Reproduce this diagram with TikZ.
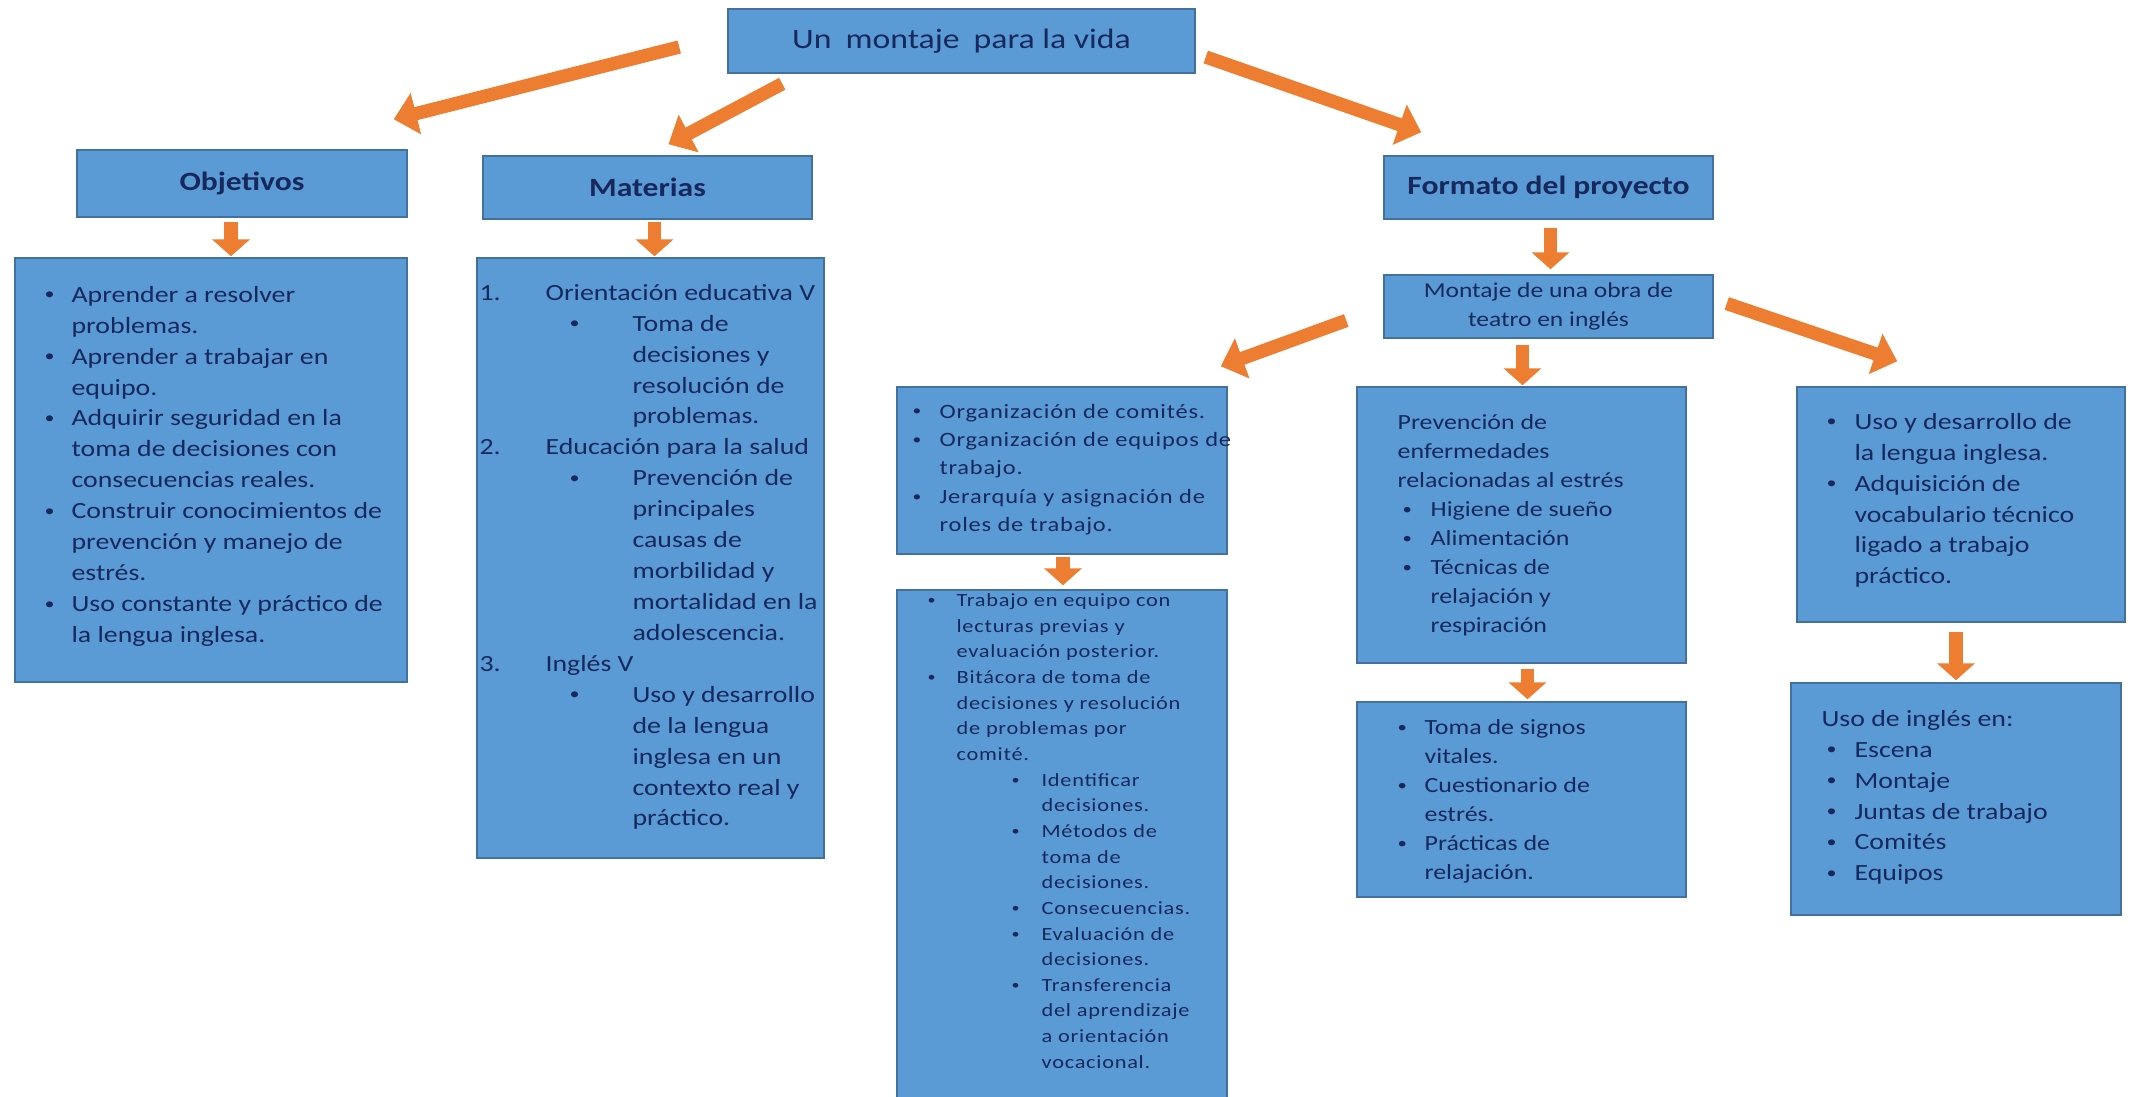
\documentclass[tikz,border=0pt]{standalone}
\usepackage{fontspec}
\setmainfont{Carlito}[FakeStretch=1.2]
\newfontfamily\widefont{Carlito}[FakeStretch=1.2,LetterSpace=4]
\usetikzlibrary{arrows.meta,calc}

\newdimen\pxu \pxu=0.02cm
\definecolor{boxfill}{RGB}{91,155,213}
\definecolor{boxline}{RGB}{65,113,156}
\definecolor{txtblue}{RGB}{22,40,92}
\definecolor{arrorange}{RGB}{237,125,49}
% bullet at #1, text at #1+#2 (both in px)
\newcommand{\bl}[2]{\hspace*{#1\pxu}\makebox[#2\pxu][l]{\raisebox{0.1em}{\scalebox{0.72}{\textbullet}}}}
\newcommand{\sk}[1]{\hspace*{#1\pxu}}

\begin{document}
\begin{tikzpicture}[x=0.02cm,y=-0.02cm,
  box/.style={draw=boxline, fill=boxfill, line width=0.85pt, inner sep=0pt, text=txtblue},
  head/.style={box, font=\fontsize{15}{18}\selectfont\bfseries},
  lst/.style={anchor=north west, inner sep=0pt, align=left, text=txtblue},
  lstA/.style={lst, font=\fontsize{13.2}{17.6}\selectfont},
  lstB/.style={lst, font=\fontsize{12.3}{16.5}\selectfont},
  lstC/.style={lst, font=\widefont\fontsize{11.6}{16.2}\selectfont},
  lstD/.style={lst, font=\widefont\fontsize{10.6}{14.6}\selectfont},
  blk/.style={draw=arrorange, line width=7.6pt, -{Triangle[width=23.5pt,length=13pt]}},
  dwn/.style={draw=arrorange, line width=7.9pt, -{Triangle[width=21pt,length=9.6pt]}}]
\useasboundingbox (0,0) rectangle (2131,1097);

% top level
\node[box, minimum width=467\pxu, minimum height=64\pxu,
      font=\fontsize{16}{18}\selectfont] (title) at (961.5,41)
      {Un\enspace montaje\enspace para la vida};
\node[head, minimum width=330\pxu, minimum height=67\pxu] (obj) at (242,183.5) {Objetivos};
\node[head, minimum width=329\pxu, minimum height=63\pxu] (mat) at (647.5,187.5) {Materias};
\node[head, minimum width=329\pxu, minimum height=63\pxu] (fmt) at (1548.5,187.5) {Formato del proyecto};
\node[box, minimum width=329\pxu, minimum height=63\pxu, align=center,
      font=\fontsize{12.1}{16.4}\selectfont] (mon) at (1548.5,306.5)
      {Montaje de una obra de\\teatro en inglés};

% content boxes
\node[box, minimum width=392\pxu, minimum height=424\pxu] (objc) at (211,470) {};
\node[box, minimum width=347\pxu, minimum height=600\pxu] (matc) at (650.5,558) {};
\node[box, minimum width=330\pxu, minimum height=167\pxu] (org) at (1062,470.5) {};
\node[box, minimum width=330\pxu, minimum height=512\pxu] (trab) at (1062,846) {};
\node[box, minimum width=329\pxu, minimum height=276\pxu] (prev) at (1521.5,525) {};
\node[box, minimum width=329\pxu, minimum height=195\pxu] (toma) at (1521.5,799.5) {};
\node[box, minimum width=328\pxu, minimum height=235\pxu] (uso) at (1961,504.5) {};
\node[box, minimum width=330\pxu, minimum height=232\pxu] (usoing) at (1956,799) {};

% texts
\node[lstA] (objt) at ($(objc.north west)+(30,23)$) {\strut\bl{0}{27}Aprender a resolver\\
  \sk{27}problemas.\\
  \bl{0}{27}Aprender a trabajar en\\
  \sk{27}equipo.\\
  \bl{0}{27}Adquirir seguridad en la\\
  \sk{27}toma de decisiones con\\
  \sk{27}consecuencias reales.\\
  \bl{0}{27}Construir conocimientos de\\
  \sk{27}prevención y manejo de\\
  \sk{27}estrés.\\
  \bl{0}{27}Uso constante y práctico de\\
  \sk{27}la lengua inglesa.};
\node[lstA] (matt) at ($(matc.north west)+(3,21)$) {\strut\makebox[66\pxu][l]{1.}Orientación educativa V\\
  \bl{90}{63}Toma de\\
  \sk{153}decisiones y\\
  \sk{153}resolución de\\
  \sk{153}problemas.\\
  \makebox[66\pxu][l]{2.}Educación para la salud\\
  \bl{90}{63}Prevención de\\
  \sk{153}principales\\
  \sk{153}causas de\\
  \sk{153}morbilidad y\\
  \sk{153}mortalidad en la\\
  \sk{153}adolescencia.\\
  \makebox[66\pxu][l]{3.}Inglés V\\
  \bl{90}{63}Uso y desarrollo\\
  \sk{153}de la lengua\\
  \sk{153}inglesa en un\\
  \sk{153}contexto real y\\
  \sk{153}práctico.};
\node[lstC] (orgt) at ($(org.north west)+(16,11.5)$) {\strut\bl{0}{27}Organización de comités.\\
  \bl{0}{27}Organización de equipos de\\
  \sk{27}trabajo.\\
  \bl{0}{27}Jerarquía y asignación de\\
  \sk{27}roles de trabajo.};
\node[lstD] (trabt) at ($(trab.north west)+(31,-1)$) {\strut\bl{0}{29}Trabajo en equipo con\\
  \sk{29}lecturas previas y\\
  \sk{29}evaluación posterior.\\
  \bl{0}{29}Bitácora de toma de\\
  \sk{29}decisiones y resolución\\
  \sk{29}de problemas por\\
  \sk{29}comité.\\
  \bl{84}{30}Identificar\\
  \sk{114}decisiones.\\
  \bl{84}{30}Métodos de\\
  \sk{114}toma de\\
  \sk{114}decisiones.\\
  \bl{84}{30}Consecuencias.\\
  \bl{84}{30}Evaluación de\\
  \sk{114}decisiones.\\
  \bl{84}{30}Transferencia\\
  \sk{114}del aprendizaje\\
  \sk{114}a orientación\\
  \sk{114}vocacional.};
\node[lstB] (prevt) at ($(prev.north west)+(41,23)$) {\strut Prevención de\\
  enfermedades\\
  relacionadas al estrés\\
  \bl{5}{28}Higiene de sueño\\
  \bl{5}{28}Alimentación\\
  \bl{5}{28}Técnicas de\\
  \sk{33}relajación y\\
  \sk{33}respiración};
\node[lstB] (tomat) at ($(toma.north west)+(41,13)$) {\strut\bl{0}{27}Toma de signos\\
  \sk{27}vitales.\\
  \bl{0}{27}Cuestionario de\\
  \sk{27}estrés.\\
  \bl{0}{27}Prácticas de\\
  \sk{27}relajación.};
\node[lstA] (usot) at ($(uso.north west)+(30,21)$) {\strut\bl{0}{28}Uso y desarrollo de\\
  \sk{28}la lengua inglesa.\\
  \bl{0}{28}Adquisición de\\
  \sk{28}vocabulario técnico\\
  \sk{28}ligado a trabajo\\
  \sk{28}práctico.};
\node[lstA] (usoingt) at ($(usoing.north west)+(31,22)$) {\strut Uso de inglés en:\\
  \bl{5}{28}Escena\\
  \bl{5}{28}Montaje\\
  \bl{5}{28}Juntas de trabajo\\
  \bl{5}{28}Comités\\
  \bl{5}{28}Equipos};

% arrows
\draw[blk] ($(title.west)+(-48,6)$) -- ($(obj.north east)+(-14,-30)$);
\draw[blk] ($(title.south west)+(55,10)$) -- ($(mat.north)+(21,-11)$);
\draw[blk] ($(title.east)+(10,16)$) -- ($(fmt.north west)+(38,-23)$);
\draw[dwn] ($(obj.south)+(-11,4)$) -- ($(objc.north)+(20,-1)$);
\draw[dwn] ($(mat.south)+(7,2)$) -- ($(matc.north)+(4,-1)$);
\draw[dwn] ($(fmt.south)+(2,8)$) -- ($(mon.north)+(2,-5)$);
\draw[blk] ($(mon.west)+(-37,14)$) -- ($(org.north east)+(-7,-20)$);
\draw[dwn] ($(mon.south)+(-26,6)$) -- ($(prev.north)+(1,-1)$);
\draw[blk] ($(mon.east)+(13,-3)$) -- ($(uso.north west)+(101,-25)$);
\draw[dwn] ($(org.south)+(1,2)$) -- ($(trab.north)+(1,-4)$);
\draw[dwn] ($(prev.south)+(6,5)$) -- ($(toma.north)+(6,-2)$);
\draw[dwn] ($(uso.south)+(-5,9)$) -- ($(usoing.north)+(0,-2)$);
\end{tikzpicture}
\end{document}
